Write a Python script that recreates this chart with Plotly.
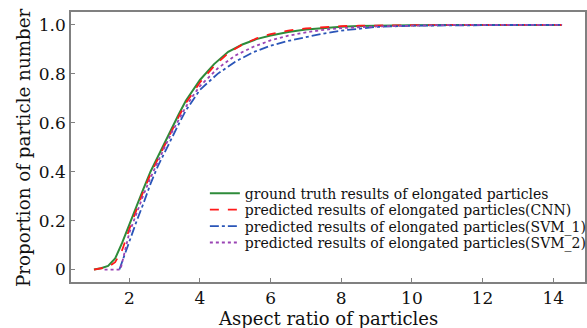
import plotly.graph_objects as go

# ---- data ----
gt_x = [1.0, 1.2, 1.4, 1.6, 1.8, 2.0, 2.2, 2.4, 2.6, 2.8, 3.0, 3.2, 3.4, 3.6, 3.8, 4.0,
        4.4, 4.8, 5.2, 5.6, 6.0, 6.5, 7.0, 7.5, 8.0, 8.5, 9.0, 10.0, 11.0, 12.0, 13.0, 14.25]
gt_y = [0.0, 0.005, 0.015, 0.045, 0.11, 0.185, 0.26, 0.33, 0.40, 0.46, 0.52, 0.58, 0.635, 0.69, 0.735, 0.775,
        0.84, 0.89, 0.92, 0.942, 0.957, 0.971, 0.981, 0.988, 0.993, 0.996, 0.998, 0.999, 1.0, 1.0, 1.0, 1.0]

cnn_x = [1.0, 1.2, 1.4, 1.6, 1.8, 2.0, 2.2, 2.4, 2.6, 2.8, 3.0, 3.2, 3.4, 3.6, 3.8, 4.0,
         4.4, 4.8, 5.2, 5.6, 6.0, 6.5, 7.0, 7.5, 8.0, 8.5, 9.0, 10.0, 11.0, 12.0, 13.0, 14.25]
cnn_y = [0.0, 0.004, 0.01, 0.03, 0.08, 0.165, 0.245, 0.32, 0.39, 0.45, 0.51, 0.57, 0.625, 0.68, 0.725, 0.765,
         0.832, 0.885, 0.92, 0.945, 0.963, 0.977, 0.986, 0.991, 0.995, 0.997, 0.998, 1.0, 1.0, 1.0, 1.0, 1.0]

svm1_x = [1.72, 2.0, 2.2, 2.4, 2.6, 2.8, 3.0, 3.2, 3.4, 3.6, 3.8, 4.0, 4.5, 5.0, 5.5,
          6.0, 6.5, 7.0, 7.5, 8.0, 8.5, 9.0, 10.0, 11.0, 12.0, 13.0, 14.25]
svm1_y = [0.0, 0.115, 0.195, 0.27, 0.35, 0.42, 0.48, 0.54, 0.595, 0.65, 0.695, 0.735, 0.80, 0.85, 0.888,
          0.915, 0.935, 0.951, 0.965, 0.977, 0.986, 0.992, 0.997, 0.999, 1.0, 1.0, 1.0]

svm2_x = [1.3, 1.5, 1.75, 2.0, 2.2, 2.4, 2.6, 2.8, 3.0, 3.2, 3.4, 3.6, 3.8, 4.0, 4.5, 5.0, 5.5,
          6.0, 6.5, 7.0, 7.5, 8.0, 9.0, 10.0, 11.0, 12.0, 13.0, 14.25]
svm2_y = [0.0, 0.0, 0.0, 0.15, 0.23, 0.305, 0.375, 0.44, 0.5, 0.56, 0.615, 0.665, 0.71, 0.75, 0.822, 0.875, 0.91,
          0.937, 0.956, 0.97, 0.98, 0.987, 0.994, 0.998, 1.0, 1.0, 1.0, 1.0]

names = [
    "ground truth results of elongated particles",
    "predicted results of elongated particles(CNN)",
    "predicted results of elongated particles(SVM_1)",
    "predicted results of elongated particles(SVM_2)",
]

x_title = "Aspect ratio of particles"
y_title = "Proportion of particle number"

x_ticks = [2, 4, 6, 8, 10, 12, 14]
y_ticks = [0, 0.2, 0.4, 0.6, 0.8, 1.0]
y_tick_text = ["0", "0.2", "0.4", "0.6", "0.8", "1.0"]

FONT = "DejaVu Serif"

series = [
    (gt_x, gt_y, "#2e8b3a", 2.0, "solid", "legend"),
    (cnn_x, cnn_y, "#ff1a1a", 1.8, "dash", "legend2"),
    (svm1_x, svm1_y, "#2a55b8", 1.8, "dashdot", "legend3"),
    (svm2_x, svm2_y, "#9a44b4", 1.8, "dot", "legend4"),
]

fig = go.Figure()
for (xs, ys, col, w, dash, lg), nm in zip(series, names):
    fig.add_trace(go.Scatter(x=xs, y=ys, mode="lines", name=nm, legend=lg,
                             line=dict(color=col, width=w, dash=dash)))

axis_common = dict(showline=True, linecolor="#808080", linewidth=1.5, mirror=True,
                   ticks="inside", ticklen=4, tickcolor="#808080", showgrid=False,
                   zeroline=False, automargin=False,
                   tickfont=dict(family=FONT, size=17, color="#111"))

# legend rows positioned in container fractions
legend_y = [0.4095, 0.3595, 0.3095, 0.2595]
legend_common = dict(x=0.349, xanchor="left", yanchor="middle", xref="container", yref="container",
                     bgcolor="rgba(0,0,0,0)",
                     font=dict(family=FONT, size=14, color="#111"), itemwidth=30)

fig.update_layout(
    width=587, height=328,
    margin=dict(l=71, r=2, t=12, b=46, autoexpand=False),
    paper_bgcolor="white", plot_bgcolor="white",
    font=dict(family=FONT, color="#111"),
    showlegend=True,
    legend=dict(y=legend_y[0], **legend_common),
    legend2=dict(y=legend_y[1], **legend_common),
    legend3=dict(y=legend_y[2], **legend_common),
    legend4=dict(y=legend_y[3], **legend_common),
    xaxis=dict(range=[0.35, 14.9], tickvals=x_ticks, **axis_common),
    yaxis=dict(range=[-0.051, 1.053], tickvals=y_ticks, ticktext=y_tick_text, **axis_common),
    annotations=[
        dict(text=x_title, xref="paper", yref="paper", x=0.5, y=-0.1352,
             xanchor="center", yanchor="middle", showarrow=False, borderpad=0,
             font=dict(family=FONT, size=18, color="#111")),
        dict(text=y_title, xref="paper", yref="paper", x=-0.0934, y=0.5, textangle=-90,
             xanchor="center", yanchor="middle", showarrow=False, borderpad=0,
             font=dict(family=FONT, size=18.3, color="#111")),
    ],
)

fig.write_html("out.html")
